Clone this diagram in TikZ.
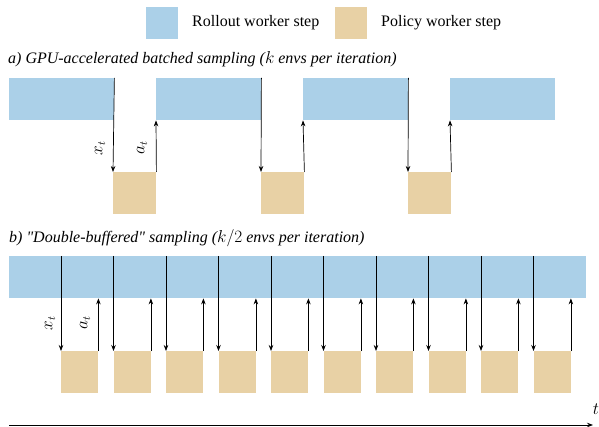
\documentclass[tikz,border=0pt]{standalone}
\usepackage{fontspec}
\setmainfont{Liberation Serif}
\usetikzlibrary{arrows.meta,calc}
\definecolor{rollblue}{RGB}{171,208,232}
\definecolor{poltan}{RGB}{232,209,165}
\newcommand{\sq}{{\addfontfeature{Ligatures=TeXOff}"}}
\tikzset{
  rollbox/.style={fill=rollblue,draw=none,inner sep=0pt,anchor=north west,minimum height=42pt},
  polbox/.style={fill=poltan,draw=none,inner sep=0pt,anchor=north west,minimum height=42pt},
  msg/.style={-{Stealth[length=6pt,width=4.5pt]},line width=0.7pt,black},
  ttl/.style={anchor=west,inner sep=0pt,font=\fontsize{16}{19}\selectfont\itshape},
  lgd/.style={anchor=west,inner sep=0pt,font=\fontsize{16}{19}\selectfont},
  lbl/.style={rotate=90,inner sep=0pt,font=\fontsize{16}{19}\selectfont}
}
\begin{document}
\begin{tikzpicture}[x=1pt,y=-1pt]
\useasboundingbox (0,0) rectangle (599,427);
% legend
\node[rollbox,minimum width=32pt,minimum height=32pt] (lb) at (146,7) {};
\node[lgd] (lbt) at (192,23) {Rollout worker step};
\node[polbox,minimum width=32pt,minimum height=32pt] (lp) at (335,7) {};
\node[lgd] (lpt) at (381,23) {Policy worker step};
% a)
\node[ttl] (ta) at (8,59) {a) GPU-accelerated batched sampling ($k$ envs per iteration)};
\foreach \i/\x in {1/9,2/156,3/303,4/450}{
  \node[rollbox,minimum width=105pt] (a\i) at (\x,78) {};
}
\foreach \i/\x in {1/113,2/261,3/408}{
  \node[polbox,minimum width=43pt] (p\i) at (\x,172) {};
}
\foreach \i/\j in {1/2,2/3,3/4}{
  \draw[msg] (a\i.north east) -- (p\i.north west);
  \draw[msg] (p\i.north east) -- (a\j.south west);
}
\node[lbl] (xa) at (100,148) {$x_t$};
\node[lbl] (aa) at (142,148) {$a_t$};
% b)
\node[ttl] (tb) at (9,238) {b) \sq Double-buffered\sq{} sampling ($k/2$ envs per iteration)};
\node[rollbox,minimum width=577pt] (bar) at (9,256) {};
\foreach \i in {0,...,9}{
  \node[polbox,minimum width=37pt] (q\i) at ({61+52.5*\i},351) {};
  \draw[msg] (q\i.north west |- bar.north) -- (q\i.north west);
  \draw[msg] (q\i.north east) -- (q\i.north east |- bar.south);
}
\node[lbl] (xb) at (50,323) {$x_t$};
\node[lbl] (ab) at (85,323) {$a_t$};
% time axis
\coordinate (t0) at (9,425);
\coordinate (t1) at (593,425);
\draw[-{Stealth[length=6pt,width=4.5pt]},line width=0.9pt] (t0) -- (t1);
\node[inner sep=0pt,font=\fontsize{16}{19}\selectfont] (tl) at (596,409) {$t$};
\end{tikzpicture}
\end{document}
